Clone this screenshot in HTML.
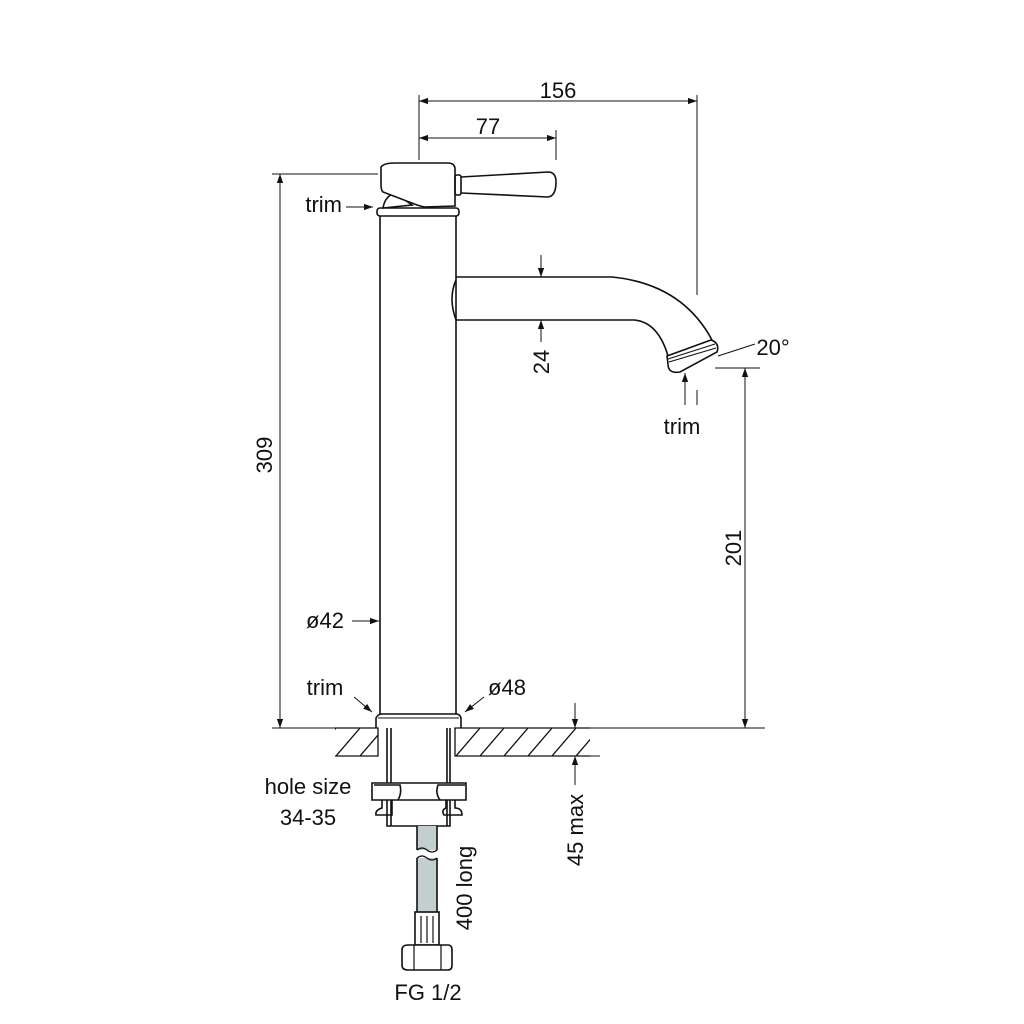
<!DOCTYPE html>
<html><head><style>body{margin:0;background:#fff}svg{display:block}text{font-family:"Liberation Sans",sans-serif;font-size:22px;fill:#111}</style></head>
<body>
<svg width="1024" height="1024" viewBox="0 0 1024 1024" xmlns="http://www.w3.org/2000/svg">
<defs>
<marker id="a" viewBox="0 0 10 10" refX="10" refY="5" markerWidth="9" markerHeight="9" orient="auto-start-reverse" markerUnits="userSpaceOnUse"><path d="M0,1.5 L10,5 L0,8.5z" fill="#111"/></marker>
<pattern id="h" width="24" height="28" patternUnits="userSpaceOnUse"><path d="M0,28 L24,0" stroke="#111" stroke-width="1.3"/></pattern>
</defs>
<g stroke="#111" fill="none" stroke-width="1">
<line x1="419" y1="95" x2="419" y2="160"/>
<line x1="697" y1="95" x2="697" y2="295"/>
<line x1="697" y1="390" x2="697" y2="405"/>
<line x1="556" y1="130" x2="556" y2="160"/>
<line x1="419" y1="101" x2="697" y2="101" marker-start="url(#a)" marker-end="url(#a)"/>
<line x1="419" y1="138" x2="556" y2="138" marker-start="url(#a)" marker-end="url(#a)"/>
<line x1="272" y1="174" x2="378" y2="174"/>
<line x1="280" y1="174" x2="280" y2="728" marker-start="url(#a)" marker-end="url(#a)"/>
<line x1="272" y1="728" x2="335" y2="728"/>
<line x1="590" y1="728" x2="765" y2="728"/>
<line x1="715" y1="368" x2="760" y2="368"/>
<line x1="745" y1="368" x2="745" y2="728" marker-start="url(#a)" marker-end="url(#a)"/>
<line x1="590" y1="756" x2="600" y2="756"/>
<line x1="575" y1="703" x2="575" y2="728" marker-end="url(#a)"/>
<line x1="575" y1="785" x2="575" y2="756" marker-end="url(#a)"/>
<line x1="541" y1="255" x2="541" y2="277" marker-end="url(#a)"/>
<line x1="541" y1="342" x2="541" y2="320" marker-end="url(#a)"/>
<line x1="718" y1="356" x2="755" y2="344"/>
<line x1="685" y1="405" x2="685" y2="373" marker-end="url(#a)"/>
<line x1="346" y1="207" x2="373" y2="207" marker-end="url(#a)"/>
<line x1="352" y1="621" x2="379" y2="621" marker-end="url(#a)"/>
<line x1="354" y1="697" x2="372" y2="712" marker-end="url(#a)"/>
<line x1="484" y1="697" x2="465" y2="712" marker-end="url(#a)"/>
<rect x="335" y="728" width="43" height="28" fill="url(#h)" stroke="none"/>
<rect x="455" y="728" width="135" height="28" fill="url(#h)" stroke="none"/>
<path d="M335,728 H378 V756 H335 M590,728 H455 V756 H590" stroke-width="1.3"/>
<g stroke-width="1.6">
<path d="M380,216 V714 M456,216 V714"/>
<rect x="377" y="208" width="82" height="8" rx="3"/>
<path d="M376,728 V718 Q378,714 382,714 H456 Q460,714 461,718 V728"/>
<line x1="378" y1="718" x2="459" y2="718" stroke-width="1"/>
<path d="M383,208 Q385,196 395,193 L412,205 Z"/>
<path d="M381,167 Q384,163 395,163 H448 Q454,163 455,168 V206 L424,207 L417,205 L383,192 Q381,190 381,185 Z" fill="#fff"/>
<rect x="455" y="175" width="6" height="20" rx="2"/>
<path d="M461,177 L548,172 Q556,172 556,182 Q556,196 548,197 L461,193"/>
<path d="M456,277 H612 Q682,284 712,340"/>
<path d="M456,320 H634 Q658,322 668,356"/>
<path d="M456,280 Q448,298 456,320"/>
<path d="M667,356 L711,340 Q720,343 717,352 L680,372 Q668,374 668,364 Z" fill="#fff"/>
<path d="M668,359 L715,344 M669,362 L716,348" stroke-width="1"/>
<path d="M387,728 V826 H450 V728 M391,728 V826 M447,728 V826"/>
<path d="M372,783 H466 V800 H372 Z" fill="#fff"/>
<path d="M382,800 V808 Q375,810 376,815 H392 V800 M446,800 V808 Q441,810 444,815 H462 Q462,808 455,808 V800"/>
<path d="M374,785 L400,785 Q402,793 398,800 M465,785 L438,785 Q435,793 440,800"/>
<rect x="417" y="826" width="20" height="24" fill="#c3cfcf" stroke="none"/>
<rect x="417" y="858" width="20" height="78" fill="#c3cfcf" stroke="none"/>
<path d="M417,826 V850 M437,826 V850 M417,858 V936 M437,858 V936"/>
<path d="M417,850 Q422,846 427,850 T437,850 M417,858 Q422,854 427,858 T437,858" stroke-width="1.2"/>
<rect x="415" y="912" width="24" height="33" fill="#fff"/>
<path d="M421,916 V943 M427,916 V943 M433,916 V943" stroke-width="1.2"/>
<path d="M402,950 Q402,945 408,945 H448 Q452,945 452,950 V965 Q452,970 448,970 H408 Q402,970 402,965 Z" fill="#fff"/>
<path d="M414,945 V970 M441,945 V970" stroke-width="1.2"/>
</g>
</g>
<text x="558" y="98" text-anchor="middle">156</text>
<text x="488" y="134" text-anchor="middle">77</text>
<text x="342" y="212" text-anchor="end">trim</text>
<text x="682" y="434" text-anchor="middle">trim</text>
<text x="773" y="355" text-anchor="middle">20°</text>
<text x="325" y="628" text-anchor="middle">ø42</text>
<text x="325" y="695" text-anchor="middle">trim</text>
<text x="507" y="695" text-anchor="middle">ø48</text>
<text x="308" y="794" text-anchor="middle">hole size</text>
<text x="308" y="825" text-anchor="middle">34-35</text>
<text x="428" y="1000" text-anchor="middle">FG 1/2</text>
<text transform="translate(272,455) rotate(-90)" text-anchor="middle">309</text>
<text transform="translate(741,548) rotate(-90)" text-anchor="middle">201</text>
<text transform="translate(549,362) rotate(-90)" text-anchor="middle">24</text>
<text transform="translate(583,830) rotate(-90)" text-anchor="middle">45 max</text>
<text transform="translate(472,888) rotate(-90)" text-anchor="middle">400 long</text>
</svg>
</body></html>
